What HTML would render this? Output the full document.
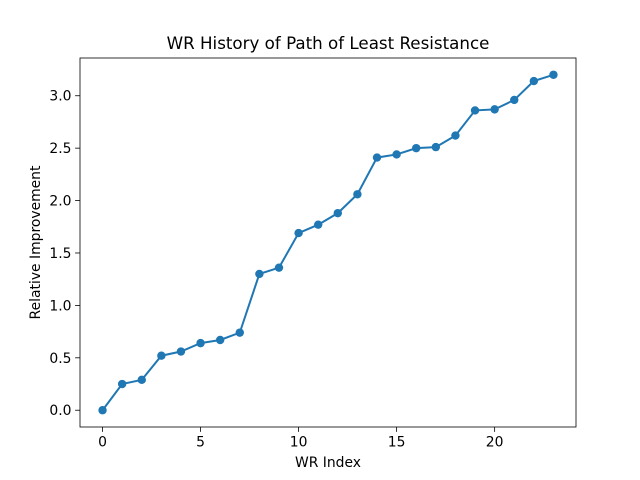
<!DOCTYPE html>
<html><head><meta charset="utf-8"><style>body{margin:0;background:#fff}svg{display:block;font-family:"DejaVu Sans","Liberation Sans",sans-serif}</style></head>
<body>
<svg id="chart" width="640" height="480"></svg>
<script>
const xValues=[0,1,2,3,4,5,6,7,8,9,10,11,12,13,14,15,16,17,18,19,20,21,22,23];
const yValues=[0,0.25,0.29,0.52,0.56,0.64,0.67,0.74,1.30,1.36,1.69,1.77,1.88,2.06,2.41,2.44,2.50,2.51,2.62,2.86,2.87,2.96,3.14,3.20];
const xTicks=[0,5,10,15,20];
const yTicks=[0.0,0.5,1.0,1.5,2.0,2.5,3.0];
const L=80,R=576,T=58,B=427;
const xmin=-1.15,xmax=24.15,ymin=-0.16,ymax=3.36;
const sx=v=>L+(v-xmin)/(xmax-xmin)*(R-L);
const sy=v=>B-(v-ymin)/(ymax-ymin)*(B-T);
const NS="http://www.w3.org/2000/svg";
const svg=document.getElementById('chart');
function mk(t,a,txt){const e=document.createElementNS(NS,t);for(const k in a)e.setAttribute(k,a[k]);if(txt!=null)e.textContent=txt;svg.appendChild(e);return e;}
let e;
e=mk('rect',{x:L,y:T,width:R-L,height:B-T,fill:'none',stroke:'#000','stroke-width':0.8});


xTicks.forEach(v=>{const x=sx(v);
e=mk('line',{x1:x,x2:x,y1:B,y2:B+4.9,stroke:'#000','stroke-width':0.8});


e=mk('text',{x:x,y:B+19.5,'text-anchor':'middle','font-size':13.9},String(v));

});
yTicks.forEach(v=>{const y=sy(v);
e=mk('line',{x1:L-4.9,x2:L,y1:y,y2:y,stroke:'#000','stroke-width':0.8});


e=mk('text',{x:L-8.5,y:y+5,'text-anchor':'end','font-size':13.9},v.toFixed(1));

});
e=mk('polyline',{points:xValues.map((x,i)=>sx(x)+','+sy(yValues[i])).join(' '),fill:'none',stroke:'#1f77b4','stroke-width':2});


xValues.forEach((x,i)=>{e=mk('circle',{cx:sx(x),cy:sy(yValues[i]),r:4.2,fill:'#1f77b4'});

});
e=mk('text',{x:(L+R)/2,y:49,'text-anchor':'middle','font-size':16.7},'WR History of Path of Least Resistance');


e=mk('text',{x:(L+R)/2,y:467,'text-anchor':'middle','font-size':13.9},'WR Index');


e=mk('text',{x:40,y:(T+B)/2,'text-anchor':'middle','font-size':13.9,transform:'rotate(-90 40 '+((T+B)/2)+')'},'Relative Improvement');


</script>
</body></html>
